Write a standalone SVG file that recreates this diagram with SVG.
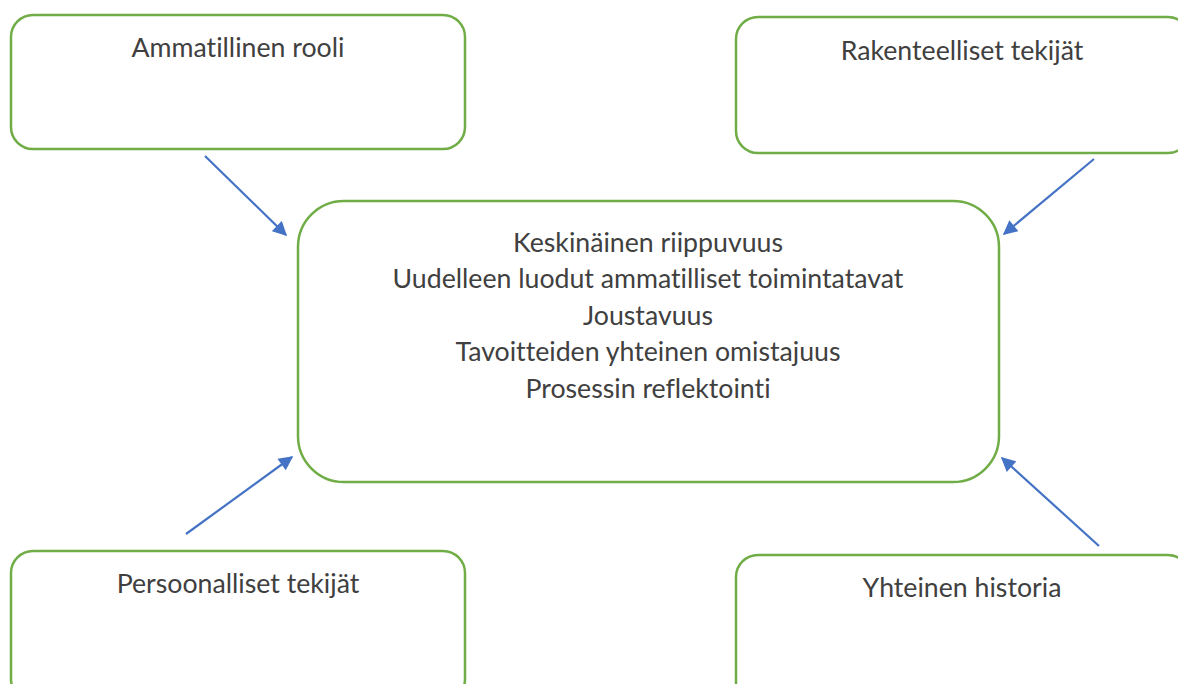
<svg xmlns="http://www.w3.org/2000/svg" width="1178" height="684" viewBox="0 0 1178 684">
<style>
.box{fill:#fff;stroke:#70AD47;stroke-width:2.5}
.t{font-family:Lato,"Liberation Sans",sans-serif;font-size:26.7px;fill:#404040;text-anchor:middle;font-variant-ligatures:none}
.c{stroke:#4472C4;stroke-width:2.2;fill:none;marker-end:url(#ah)}
</style>
<defs>
<marker id="ah" viewBox="0 0 10 10" refX="9" refY="5" markerWidth="7" markerHeight="6.5" markerUnits="strokeWidth" orient="auto">
<path d="M0,0 L10,5 L0,10 z" fill="#4472C4"/>
</marker>
</defs>
<rect width="1178" height="684" fill="#fff"/>
<g id="n1"><rect class="box" x="11" y="15" width="454" height="134" rx="22"/><text class="t" x="238" y="57">Ammatillinen rooli</text></g>
<g id="n2"><rect class="box" x="736" y="17" width="454" height="136" rx="22"/><text class="t" x="962" y="60">Rakenteelliset tekijät</text></g>
<g id="n3"><rect class="box" x="11" y="551" width="454" height="150" rx="22"/><text class="t" x="238" y="593">Persoonalliset tekijät</text></g>
<g id="n4"><rect class="box" x="736" y="555" width="454" height="150" rx="22"/><text class="t" x="962" y="597">Yhteinen historia</text></g>
<g id="center"><rect class="box" x="298" y="201" width="701" height="281" rx="46"/>
<text class="t" x="648" y="252">Keskinäinen riippuvuus</text>
<text class="t" x="648" y="288">Uudelleen luodut ammatilliset toimintatavat</text>
<text class="t" x="648" y="325">Joustavuus</text>
<text class="t" x="648" y="361">Tavoitteiden yhteinen omistajuus</text>
<text class="t" x="648" y="398">Prosessin reflektointi</text>
</g>
<g id="connectors">
<line class="c" x1="205" y1="156" x2="286" y2="235"/>
<line class="c" x1="1094" y1="159" x2="1004" y2="234"/>
<line class="c" x1="186" y1="534" x2="292" y2="457"/>
<line class="c" x1="1099" y1="546" x2="1002" y2="458"/>
</g>
</svg>
